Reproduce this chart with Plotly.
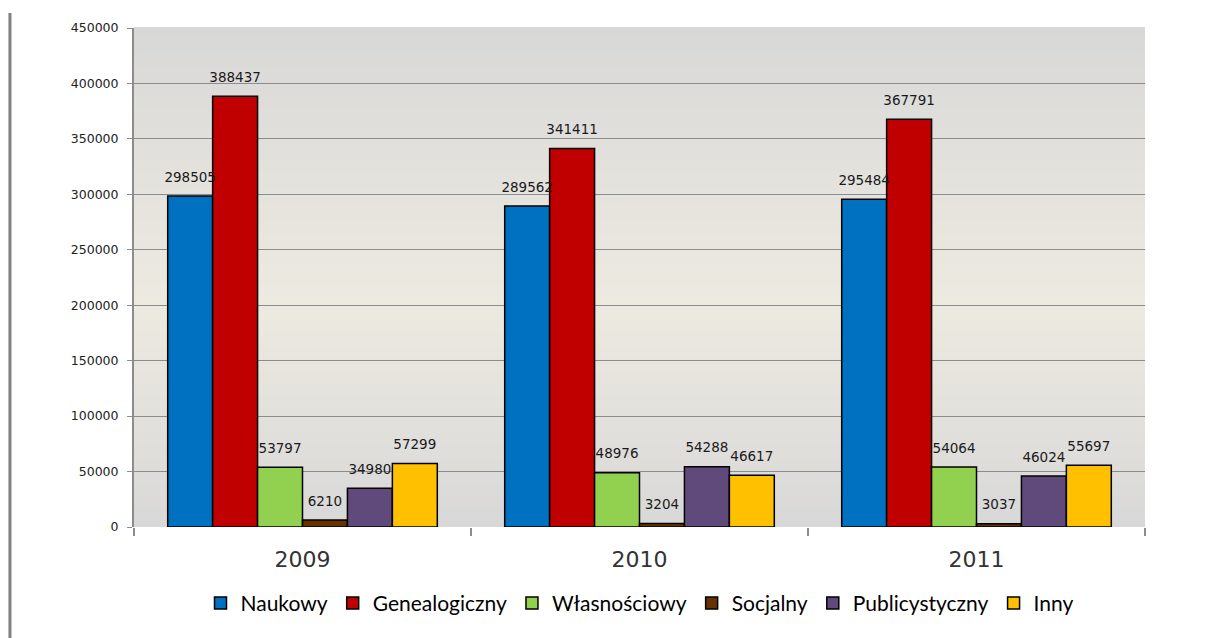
import plotly.graph_objects as go

years = ["2009", "2010", "2011"]
series_names = ["Naukowy", "Genealogiczny", "Własnościowy", "Socjalny", "Publicystyczny", "Inny"]
naukowy = [298505, 289562, 295484]
genealogiczny = [388437, 341411, 367791]
wlasnosciowy = [53797, 48976, 54064]
socjalny = [6210, 3204, 3037]
publicystyczny = [34980, 54288, 46024]
inny = [57299, 46617, 55697]
y_ticks = [0, 50000, 100000, 150000, 200000, 250000, 300000, 350000, 400000, 450000]

series_values = [naukowy, genealogiczny, wlasnosciowy, socjalny, publicystyczny, inny]
colors = ["#0070c0", "#c00000", "#92d050", "#663300", "#604a7b", "#ffc000"]

fig = go.Figure()
for name, vals, col in zip(series_names, series_values, colors):
    fig.add_trace(go.Bar(
        x=years, y=vals, name=name, offsetgroup=name,
        marker=dict(color=col, line=dict(color="black", width=1.5)),
    ))
# data labels, grouped like the bars
for name, vals in zip(series_names, series_values):
    fig.add_trace(go.Scatter(
        x=years, y=vals, mode="markers+text", offsetgroup=name,
        marker=dict(size=16, color="rgba(0,0,0,0)"),
        text=[str(v) for v in vals], textposition="top center",
        textfont=dict(family="DejaVu Sans", size=13.5, color="#1a1a1a"),
        showlegend=False, hoverinfo="skip", cliponaxis=False,
    ))

# gradient background bands
def mix(c1, c2, t):
    return tuple(round(a + (b - a) * t) for a, b in zip(c1, c2))

gray = (216, 216, 216)
beige = (237, 234, 224)
shapes = []
n = 80
peak = 0.45  # from bottom
for i in range(n):
    y0 = i / n
    y1 = (i + 1) / n
    ym = (y0 + y1) / 2
    if ym < peak:
        t = ym / peak
    else:
        t = (1 - ym) / (1 - peak)
    c = mix(gray, beige, t)
    shapes.append(dict(type="rect", xref="paper", yref="paper", x0=0, x1=1, y0=y0, y1=y1 + 0.002,
                       fillcolor="rgb(%d,%d,%d)" % c, line=dict(width=0), layer="below"))
# left page border line
shapes.append(dict(type="line", xref="paper", yref="paper", x0=-0.1227, x1=-0.1227, y0=-0.25, y1=1.03,
                   line=dict(color="#808080", width=3)))

fig.update_layout(
    width=1208, height=638,
    margin=dict(l=126, r=71, t=17, b=119),
    paper_bgcolor="white", plot_bgcolor="#d8d8d8",
    barmode="group", bargap=0.2, bargroupgap=0,
    scattermode="group", scattergap=0.2,
    shapes=shapes,
    showlegend=True,
    legend=dict(orientation="h", x=0.5, xanchor="center", y=-0.153, yanchor="middle",
                font=dict(family="Lato", size=21, color="black"),
                traceorder="normal"),
    xaxis=dict(type="category", tickson="boundaries", ticks="outside", ticklen=8, tickcolor="#8c8c8c",
               tickwidth=2, showgrid=False, showline=False, ticklabelstandoff=17,
               tickfont=dict(family="DejaVu Sans", size=22, color="#333333")),
    yaxis=dict(range=[0, 450000], tickvals=y_ticks, ticktext=[str(v) for v in y_ticks],
               showgrid=True, gridcolor="#8c8c8c", gridwidth=1.3, zeroline=False,
               showline=True, linecolor="#8c8c8c", linewidth=2,
               ticks="outside", ticklen=5, tickcolor="#8c8c8c", ticklabelstandoff=6,
               tickfont=dict(family="DejaVu Sans", size=12.5, color="#222222")),
    font=dict(family="DejaVu Sans"),
)

fig.write_html("out.html")
